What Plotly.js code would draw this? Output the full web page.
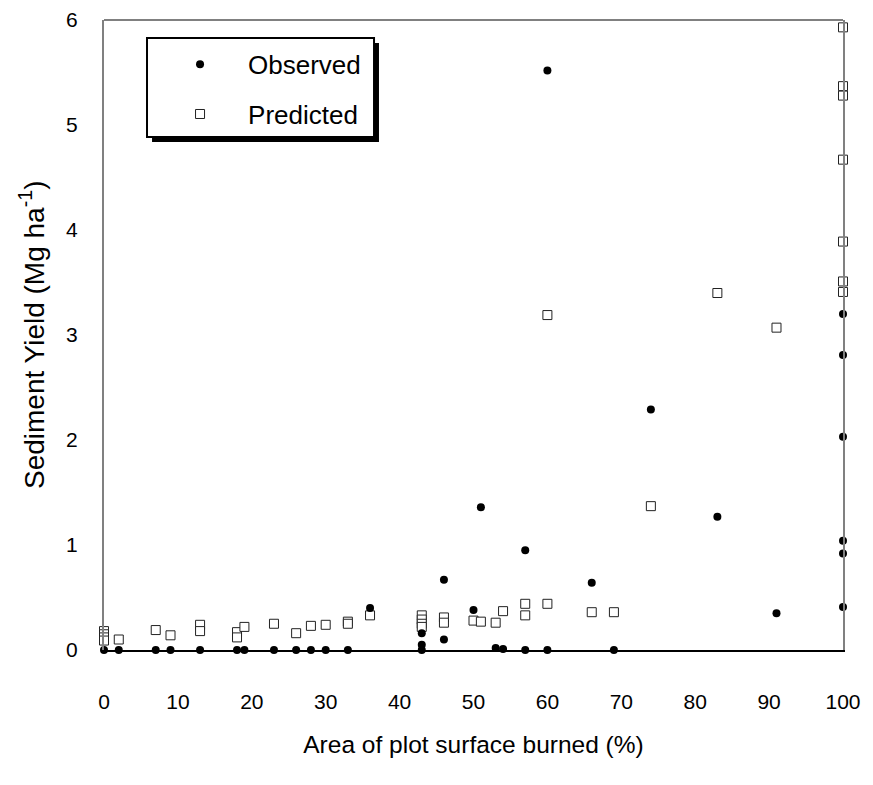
<!DOCTYPE html>
<html>
<head>
<meta charset="utf-8">
<script src="https://cdn.plot.ly/plotly-3.0.1.min.js"></script>
<style>html,body{margin:0;padding:0;background:#fff;}#chart{width:873px;height:785px;}</style>
</head>
<body>
<div id="chart"></div>
<script>
// Observed sediment yield (filled circles)
const obsBurned = [0,2,7,9,13,18,19,23,26,28,30,33,36,43,43,43,46,46,50,51,53,54,57,57,60,60,66,69,74,83,91,100,100,100,100,100,100];
const obsYield  = [0,0,0,0,0,0,0,0,0,0,0,0,0.40,0.16,0.05,0,0.67,0.10,0.38,1.36,0.02,0.01,0.95,0,5.52,0,0.64,0,2.29,1.27,0.35,3.20,2.81,2.03,1.04,0.92,0.41];

// Predicted sediment yield (open squares)
const predBurned = [0,0,0,0,2,7,9,13,13,18,18,19,23,26,28,30,33,33,36,43,43,43,43,46,46,50,51,53,54,57,57,60,60,66,69,74,83,91,100,100,100,100,100,100,100];
const predYield  = [0.18,0.15,0.12,0.09,0.10,0.19,0.14,0.24,0.18,0.17,0.12,0.22,0.25,0.16,0.23,0.24,0.27,0.25,0.33,0.33,0.29,0.25,0.22,0.31,0.26,0.28,0.27,0.26,0.37,0.44,0.33,0.44,3.19,0.36,0.36,1.37,3.40,3.07,5.93,5.37,5.28,4.67,3.89,3.51,3.41];

const xTicks = [0,10,20,30,40,50,60,70,80,90,100];
const yTicks = [0,1,2,3,4,5,6];

const FONT = 'Arial, "Liberation Sans", sans-serif';

// Predicted drawn first so the observed dots sit on top
const traces = [
  {
    x: predBurned, y: predYield, type: 'scatter', mode: 'markers', name: 'Predicted',
    legendgroup: 'b', legendrank: 2, cliponaxis: false,
    marker: {symbol: 'square', size: 9, color: '#fff', line: {color: '#222', width: 1}}
  },
  {
    x: obsBurned, y: obsYield, type: 'scatter', mode: 'markers', name: 'Observed',
    legendgroup: 'a', legendrank: 1, cliponaxis: false,
    marker: {symbol: 'circle', size: 8, color: '#000'}
  }
];

const layout = {
  width: 873, height: 785,
  margin: {l: 104, r: 30, t: 20, b: 135},
  paper_bgcolor: '#fff', plot_bgcolor: 'rgba(0,0,0,0)',
  font: {family: FONT, size: 20, color: '#000'},
  showlegend: true,
  legend: {
    x: 0.065, y: 0.967, xanchor: 'left', yanchor: 'top',
    bgcolor: 'rgba(0,0,0,0)', borderwidth: 0,
    font: {family: FONT, size: 26, color: '#000'},
    traceorder: 'grouped', tracegroupgap: 13, itemwidth: 86
  },
  xaxis: {
    range: [0, 100], tickvals: xTicks, ticktext: xTicks.map(String),
    showgrid: false, zeroline: false,
    showline: true, linecolor: '#000', linewidth: 2, mirror: false,
    ticks: 'outside', ticklen: 32, tickcolor: 'rgba(0,0,0,0)',
    tickfont: {family: FONT, size: 21, color: '#000'},
    title: {text: 'Area of plot surface burned (%)', font: {family: FONT, size: 24.5, color: '#000'}, standoff: 24},
    automargin: false, fixedrange: true
  },
  yaxis: {
    range: [0, 6], tickvals: yTicks, ticktext: yTicks.map(String),
    showgrid: false, zeroline: false,
    showline: true, linecolor: '#808080', linewidth: 2, mirror: true,
    ticks: 'outside', ticklen: 20, tickcolor: 'rgba(0,0,0,0)',
    tickfont: {family: FONT, size: 21, color: '#000'},
    automargin: false, fixedrange: true
  },
  annotations: [
    {text: 'Sediment Yield (Mg ha<sup>-1</sup>)', xref: 'paper', yref: 'paper',
     x: -0.0974, y: 0.5, xanchor: 'center', yanchor: 'middle', textangle: -90,
     showarrow: false, font: {family: FONT, size: 28, color: '#000'}}
  ],
  shapes: [
    {type: 'line', xref: 'paper', yref: 'paper', x0: 0, x1: 1, y0: 1, y1: 1, line: {color: '#808080', width: 2}, layer: 'below'},
    {type: 'rect', xref: 'paper', yref: 'paper', x0: 0.065, x1: 0.3721, y0: 0.8063, y1: 0.9635, fillcolor: '#000', line: {width: 0}, layer: 'above'},
    {type: 'rect', xref: 'paper', yref: 'paper', x0: 0.0582, x1: 0.3654, y0: 0.8143, y1: 0.9714, fillcolor: '#fff', line: {color: '#000', width: 2}, layer: 'above'}
  ]
};

Plotly.newPlot('chart', traces, layout, {staticPlot: true, displayModeBar: false});
</script>
</body>
</html>
